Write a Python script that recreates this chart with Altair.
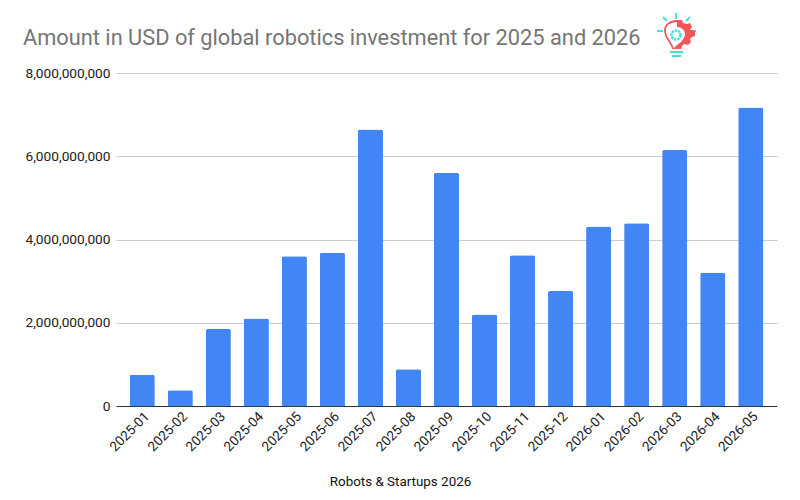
import altair as alt
import pandas as pd
import base64

months = ["2025-01","2025-02","2025-03","2025-04","2025-05","2025-06","2025-07","2025-08","2025-09","2025-10","2025-11","2025-12","2026-01","2026-02","2026-03","2026-04","2026-05"]
values = [750000000,380000000,1850000000,2100000000,3600000000,3680000000,6640000000,880000000,5600000000,2200000000,3620000000,2760000000,4310000000,4390000000,6150000000,3200000000,7170000000]
y_ticks = [0,2000000000,4000000000,6000000000,8000000000]
df = pd.DataFrame({"month": months, "value": values})
title_text = "Amount in USD of global robotics investment for 2025 and 2026"
x_title = "Robots & Startups 2026"

icon_svg = """<svg xmlns='http://www.w3.org/2000/svg' viewBox='0 0 70 60'>
<g fill='none' stroke='#3FE0E0' stroke-width='1.8'>
<path d='M36 8V14M23 12L27 16M50 12L46 16M17 26H23M50 26H56'/>
<path d='M30 47H43M32 51H41'/>
<circle cx='36' cy='30' r='4.5' stroke-width='2.4' stroke-dasharray='2.4 0.8'/>
</g>
<path d='M33 44C32 37 26 35 25 27C24 20 30 16 37 16' fill='none' stroke='#F4555A' stroke-width='1.8'/>
<path d='M37 15L42 15L43 18L47 19L50 18L52 22L50 25L52 25L55 26L55 31L52 32L50 34L51 37L48 40L44 39L42 41L41 44L33 44L37 40L41 37C43 34 45 32 45 29C45 25 41 22 37 22Z' fill='#F4555A'/>
</svg>"""
icon_url = "data:image/svg+xml;base64," + base64.b64encode(icon_svg.encode()).decode()

bars = alt.Chart(df).mark_bar(color="#4285F4", cornerRadiusTopLeft=2, cornerRadiusTopRight=2).encode(
    x=alt.X("month:N", sort=months, scale=alt.Scale(paddingInner=0.34, paddingOuter=0.36),
            axis=alt.Axis(title=x_title, titleFont="Roboto", titleFontSize=13.4, titleFontWeight="normal", titleColor="#111111",
                          titleX=284, titleY=68, titleAnchor="middle", titleAlign="center",
                          labelFont="Roboto", labelFontSize=13.5, labelColor="#222222", labelAngle=-45, labelAlign="right",
                          labelBaseline="middle", labelOffset=5, ticks=False, domainColor="#333333", labelPadding=8, grid=False)),
    y=alt.Y("value:Q", scale=alt.Scale(domain=[0, 8000000000]),
            axis=alt.Axis(title=None, values=y_ticks, format=",d",
                          labelFont="Roboto", labelFontSize=13.7, labelColor="#222222", ticks=False, domain=False,
                          gridColor="#CCCCCC", labelPadding=6)),
)

icon = alt.Chart(pd.DataFrame({"url": [icon_url]})).mark_image(width=70, height=60, clip=False).encode(
    x=alt.value(559), y=alt.value(-38), url="url:N")

chart = alt.layer(bars, icon).properties(
    width=661, height=333,
    padding={"left": 108, "top": 65, "right": 15, "bottom": 92},
    autosize=alt.AutoSizeParams(type="none"),
    title=alt.TitleParams(title_text, font="Roboto", fontSize=21.8, fontWeight="normal", color="#757575", anchor="start", frame="group", offset=20, dx=-93, dy=65),
).configure_view(stroke=None)

chart.save("out.html", embed_options={"renderer": "svg", "actions": False})
